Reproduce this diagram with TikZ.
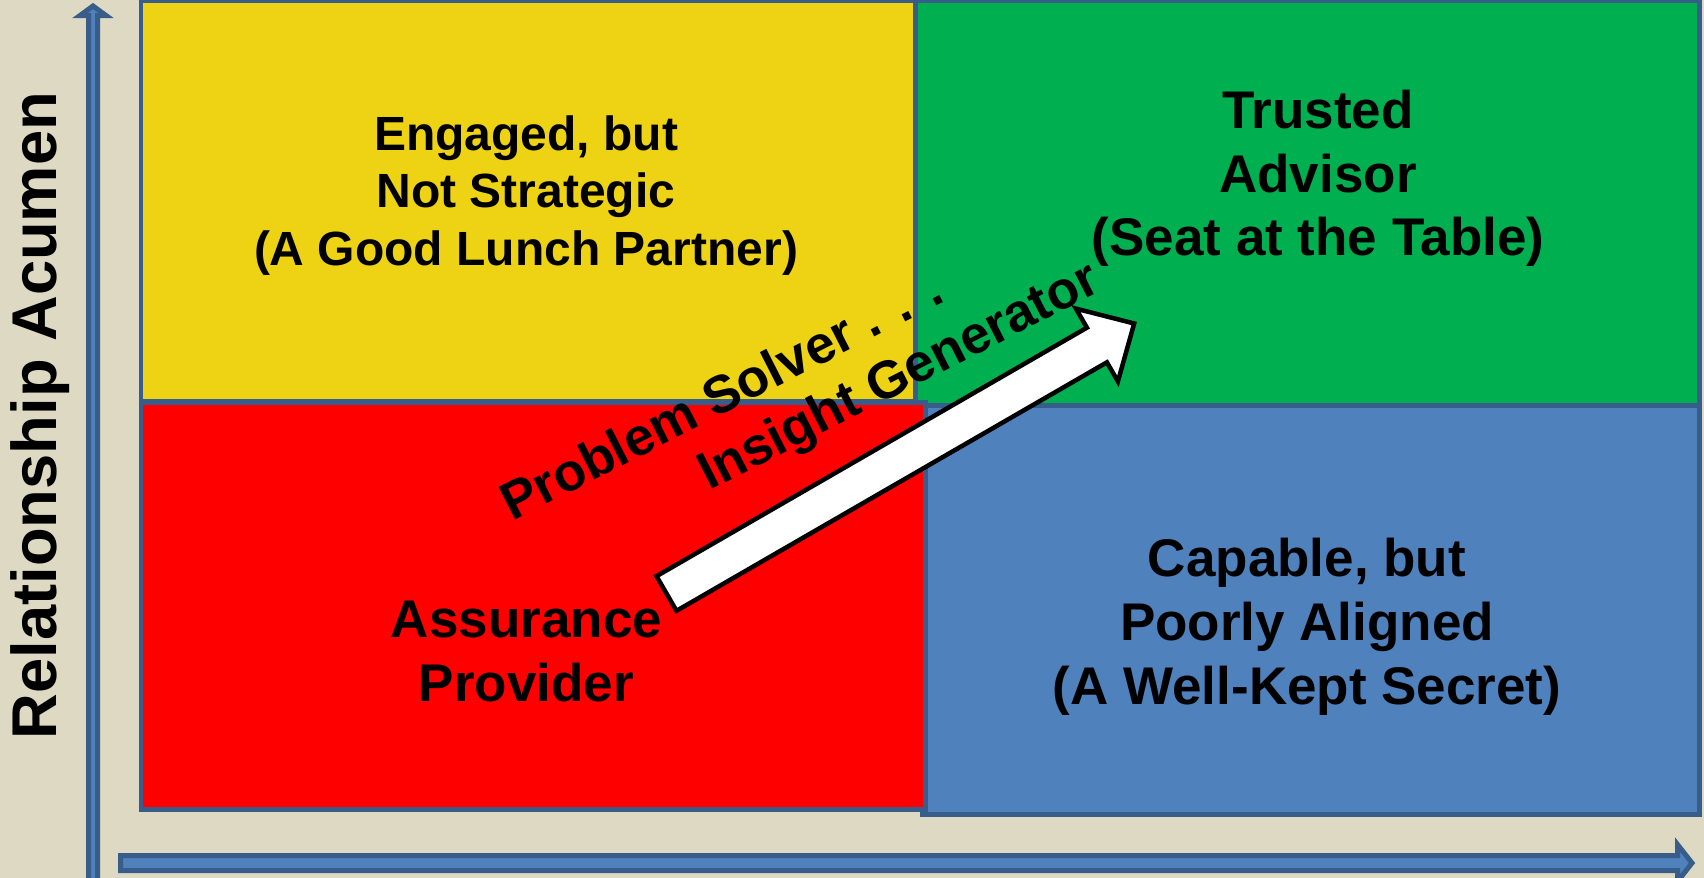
\documentclass[tikz,border=0pt]{standalone}
\usepackage{fontspec}
\setmainfont{Liberation Sans}
\definecolor{bgc}{HTML}{DDD9C3}
\definecolor{bordc}{HTML}{385D8A}
\definecolor{axfill}{HTML}{4F81BD}
\definecolor{qyellow}{HTML}{EED314}
\definecolor{qgreen}{HTML}{00B050}
\definecolor{qred}{HTML}{FF0000}
\definecolor{qblue}{HTML}{4F81BD}
\begin{document}
\begin{tikzpicture}[x=0.5pt,y=-0.5pt,
  quad/.style={draw=bordc,line width=2.25pt},
  axisarrow/.style={draw=bordc,fill=axfill,line width=2.5pt,line join=miter},
  bigarrow/.style={draw=black,fill=white,line width=2.25pt,line join=miter},
  lblbig/.style={font=\bfseries\fontsize{26.5}{31.8}\selectfont,anchor=base,inner sep=0pt},
  lblsmall/.style={font=\bfseries\fontsize{24}{28.8}\selectfont,anchor=base,inner sep=0pt},
  diag/.style={font=\bfseries\fontsize{26.5}{31.8}\selectfont,anchor=base west,inner sep=0pt,rotate=27}]
\useasboundingbox (0,0) rectangle (1704,878);
\clip (0,0) rectangle (1704,878);
\fill[bgc] (0,0) rectangle (1704,878);
% axes
\path[axisarrow] (88.5,890) -- (88.5,15.5) -- (80,15.5) -- (93,6) -- (106,15.5) -- (97.5,15.5) -- (97.5,890) -- cycle;
\path[axisarrow] (120.5,855.5) -- (1677.5,855.5) -- (1677.5,844.5) -- (1692,863) -- (1677.5,881.5) -- (1677.5,870.5) -- (120.5,870.5) -- cycle;
% quadrants
\path[quad,fill=qyellow] (141,1) rectangle (915.5,401);
\path[quad,fill=qgreen] (915.5,1) rectangle (1699.5,405.5);
\path[quad,fill=qblue] (922.5,405.5) rectangle (1699.5,814.5);
\path[quad,fill=qred] (141,402.5) rectangle (925.5,809.5);
% big arrow
\begin{scope}[shift={(666.5,593.5)},rotate=30]
\path[bigarrow] (0,-20) -- (497,-20) -- (497,-42) -- (540,0) -- (497,42) -- (497,20) -- (0,20) -- cycle;
\end{scope}
% labels
\node[lblsmall] (y1) at (526,150) {Engaged, but};
\node[lblsmall] (y2) at (526,207) {Not Strategic};
\node[lblsmall] (y3) at (526,265) {(A Good Lunch Partner)};
\node[lblbig] (g1) at (1318,128) {Trusted};
\node[lblbig] (g2) at (1318,192) {Advisor};
\node[lblbig] (g3) at (1318,255) {(Seat at the Table)};
\node[lblbig] (r1) at (526.5,637) {Assurance};
\node[lblbig] (r2) at (526.5,701) {Provider};
\node[lblbig] (b1) at (1307,576) {Capable, but};
\node[lblbig] (b2) at (1307,640) {Poorly Aligned};
\node[lblbig] (b3) at (1307,704) {(A Well-Kept Secret)};
\node[diag] (ps) at (512,522) {Problem Solver . . .};
\node[diag] (ig) at (709,491) {Insight Generator};
\node[font=\bfseries\fontsize{31.65}{38}\selectfont,anchor=base,inner sep=0pt,rotate=90] (ra) at (56,415.5) {Relationship Acumen};
\end{tikzpicture}
\end{document}
